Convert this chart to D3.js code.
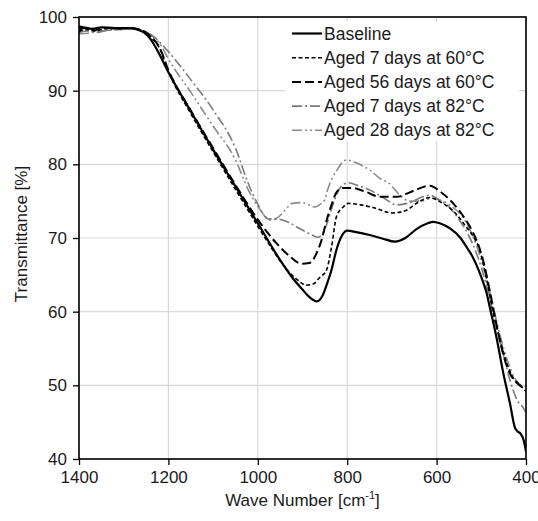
<!DOCTYPE html>
<html><head><meta charset="utf-8">
<script src="https://cdn.jsdelivr.net/npm/d3@7"></script>
<style>
html,body{margin:0;padding:0;background:#fff;}
svg{display:block;font-family:Arial,"Liberation Sans",sans-serif;}
</style></head>
<body>
<svg id="chart" width="538" height="521"></svg>
<script>
// ---- data ----
const xTicks = [1400, 1200, 1000, 800, 600, 400];
const yTicks = [40, 50, 60, 70, 80, 90, 100];
const seriesNames = ["Baseline", "Aged 7 days at 60°C", "Aged 56 days at 60°C", "Aged 7 days at 82°C", "Aged 28 days at 82°C"];

const baselineW = [1400,1390,1370,1350,1320,1290,1270,1255,1240,1225,1200,1150,1100,1050,1000,950,920,900,885,868,855,845,835,824,812,800,780,750,720,693,670,645,620,608,593,570,548,530,519,505,496,488,481,465,451,436,425,418,413,405,400];
const baselineT = [98.7,98.6,98.4,98.6,98.5,98.5,98.3,97.9,97.0,95.5,92.5,87.2,82.0,77.0,72.0,67.0,64.4,63.0,62.0,61.4,62.2,63.8,65.7,68.4,70.3,71.0,70.8,70.4,69.9,69.5,70.0,71.2,72.0,72.2,72.0,71.3,70.1,68.5,67.4,65.5,64.0,62.5,60.6,56.2,51.7,47.6,44.3,43.7,43.5,42.5,41.0];

const aged7d60W = [1400,1385,1365,1340,1310,1285,1265,1250,1235,1220,1200,1150,1100,1050,1000,970,940,915,891,875,862,846,835,824,809,798,770,740,700,670,640,615,592,560,535,519,505,496,485,476,458,443,425,415,407,400];
const aged7d60T = [98.0,98.3,98.1,98.4,98.4,98.5,98.3,97.9,97.0,95.8,92.6,86.9,81.7,76.6,71.6,68.7,66.1,64.5,63.6,63.8,64.6,65.7,68.8,72.9,74.2,74.7,74.5,74.1,73.4,73.7,74.9,75.5,74.9,73.5,71.6,70.3,68.6,66.6,63.5,60.6,56.2,53.0,50.7,50.2,49.6,49.2];

const aged56d60W = [1400,1385,1365,1340,1310,1285,1265,1250,1235,1220,1200,1150,1100,1050,1000,960,930,902,885,868,857,846,835,823,809,790,760,727,700,689,660,640,615,592,560,530,519,505,492,480,465,450,435,420,410,400];
const aged56d60T = [98.3,98.5,98.2,98.5,98.5,98.5,98.3,97.9,97.1,95.9,92.8,87.3,82.2,77.2,72.5,69.4,67.6,66.5,66.6,68.0,69.8,72.4,74.5,76.3,76.8,76.8,76.3,75.6,75.6,75.6,76.2,76.7,77.1,76.3,74.5,72.0,70.8,68.8,66.0,62.5,58.0,54.0,51.5,50.3,49.8,49.3];

const aged7d82W = [1400,1380,1360,1335,1305,1280,1260,1245,1230,1215,1200,1150,1100,1050,1022,1000,977,962,930,910,885,865,855,845,831,816,798,775,749,720,689,660,635,615,595,577,550,520,500,480,465,450,435,429,418,410,400];
const aged7d82T = [97.9,98.1,97.9,98.2,98.3,98.4,98.2,97.8,97.2,96.3,95.3,91.5,87.4,82.2,77.5,74.6,72.6,72.6,72.1,71.4,70.6,70.1,70.6,72.0,74.7,76.8,77.5,77.1,76.5,75.5,74.5,74.8,75.5,75.8,75.2,74.5,72.5,69.3,66.0,61.5,57.5,54.0,50.5,49.4,47.8,47.3,46.3];

const aged28d82W = [1400,1380,1360,1335,1305,1280,1260,1245,1230,1215,1200,1150,1100,1050,1021,1000,984,972,955,940,923,900,885,872,860,850,845,832,823,812,801,780,749,727,704,698,682,660,635,610,590,560,540,520,500,480,465,450,435,420,410,400];
const aged28d82T = [97.7,97.8,98.0,98.2,98.3,98.4,98.2,97.8,97.1,96.0,94.3,89.8,85.2,80.6,76.5,74.3,73.0,72.4,72.8,73.7,74.7,74.8,74.5,74.2,74.6,75.2,76.3,78.3,79.2,80.2,80.6,80.2,79.2,78.1,77.3,76.9,75.8,75.0,75.0,75.4,75.1,74.0,72.7,70.4,67.0,62.5,58.5,55.0,52.3,50.5,50.0,49.8];

// ---- styles ----
const styles = [
  {color:"#000", width:2.2, dash:null},
  {color:"#000", width:1.6, dash:"4,2.5"},
  {color:"#000", width:2.0, dash:"9,4"},
  {color:"#7a7a7a", width:1.6, dash:"10,3,2,3"},
  {color:"#8c8c8c", width:1.6, dash:"10,3,2,3,2,3"}
];
const seriesData = [
  [baselineW, baselineT],
  [aged7d60W, aged7d60T],
  [aged56d60W, aged56d60T],
  [aged7d82W, aged7d82T],
  [aged28d82W, aged28d82T]
];

const svg = d3.select("#chart");
const L = 79, R = 526, T = 17, B = 459;
const x = d3.scaleLinear().domain([1400, 400]).range([L, R]);
const y = d3.scaleLinear().domain([40, 100]).range([B, T]);

// gridlines
const grid = svg.append("g");
grid.selectAll("line.gx").data(xTicks).join("line")
  .attr("x1", d => x(d)).attr("x2", d => x(d)).attr("y1", T).attr("y2", B)
  .attr("stroke", "#d9d9d9").attr("stroke-width", 1.2);
grid.selectAll("line.gy").data(yTicks).join("line")
  .attr("x1", L).attr("x2", R).attr("y1", d => y(d)).attr("y2", d => y(d))
  .attr("stroke", "#d9d9d9").attr("stroke-width", 1.2);

// series
const line = d3.line().x(d => x(d[0])).y(d => y(d[1])).curve(d3.curveMonotoneX);
svg.append("clipPath").attr("id","clip").append("rect")
  .attr("x", L).attr("y", T).attr("width", R - L).attr("height", B - T);
const plot = svg.append("g").attr("clip-path", "url(#clip)");
[4,3,2,1,0].forEach(i => {
  const pts = seriesData[i][0].map((w, k) => [w, seriesData[i][1][k]]);
  plot.append("path").datum(pts)
    .attr("d", line).attr("fill", "none")
    .attr("stroke", styles[i].color).attr("stroke-width", styles[i].width)
    .attr("stroke-dasharray", styles[i].dash)
    .attr("stroke-linejoin", "round");
});

// axes
const xAxis = d3.axisBottom(x).tickValues(xTicks).tickFormat(d3.format("d")).tickSize(6).tickSizeOuter(0).tickPadding(6);
const yAxis = d3.axisLeft(y).tickValues(yTicks).tickFormat(d3.format("d")).tickSize(6).tickSizeOuter(0).tickPadding(6);
const gx = svg.append("g").attr("transform", `translate(0,${B})`).call(xAxis);
const gy = svg.append("g").attr("transform", `translate(${L},0)`).call(yAxis);
[gx, gy].forEach(g => {
  g.select(".domain").remove();
  g.selectAll(".tick line").attr("stroke", "#000").attr("stroke-width", 1.3);
  g.selectAll(".tick text").attr("font-size", 17).attr("fill", "#1a1a1a")
    .attr("font-family", 'Arial,"Liberation Sans",sans-serif');
});

// frame
svg.append("rect").attr("x", L).attr("y", T).attr("width", R - L).attr("height", B - T)
  .attr("fill", "none").attr("stroke", "#000").attr("stroke-width", 1.6);

// axis titles
svg.append("text").attr("transform", `translate(27,${(T + B) / 2 - 4}) rotate(-90)`)
  .attr("text-anchor", "middle").attr("font-size", 17).attr("fill", "#1a1a1a")
  .text("Transmittance [%]");
const xt = svg.append("text").attr("x", (L + R) / 2).attr("y", 506)
  .attr("text-anchor", "middle").attr("font-size", 17).attr("fill", "#1a1a1a");
xt.append("tspan").text("Wave Number [cm");
xt.append("tspan").attr("font-size", 11).attr("dy", -7).text("-1");
xt.append("tspan").attr("dy", 7).text("]");

// legend
const lg = svg.append("g");
lg.append("rect").attr("x", 285).attr("y", 21).attr("width", 234).attr("height", 120).attr("fill", "#fff");
seriesNames.forEach((name, i) => {
  const cy = 33.5 + i * 24.2;
  lg.append("line").attr("x1", 292).attr("x2", 322).attr("y1", cy).attr("y2", cy)
    .attr("stroke", styles[i].color).attr("stroke-width", styles[i].width)
    .attr("stroke-dasharray", styles[i].dash);
  lg.append("text").attr("x", 324).attr("y", cy + 6).attr("font-size", 17.5)
    .attr("fill", "#1a1a1a").text(name);
});
</script>
</body></html>
